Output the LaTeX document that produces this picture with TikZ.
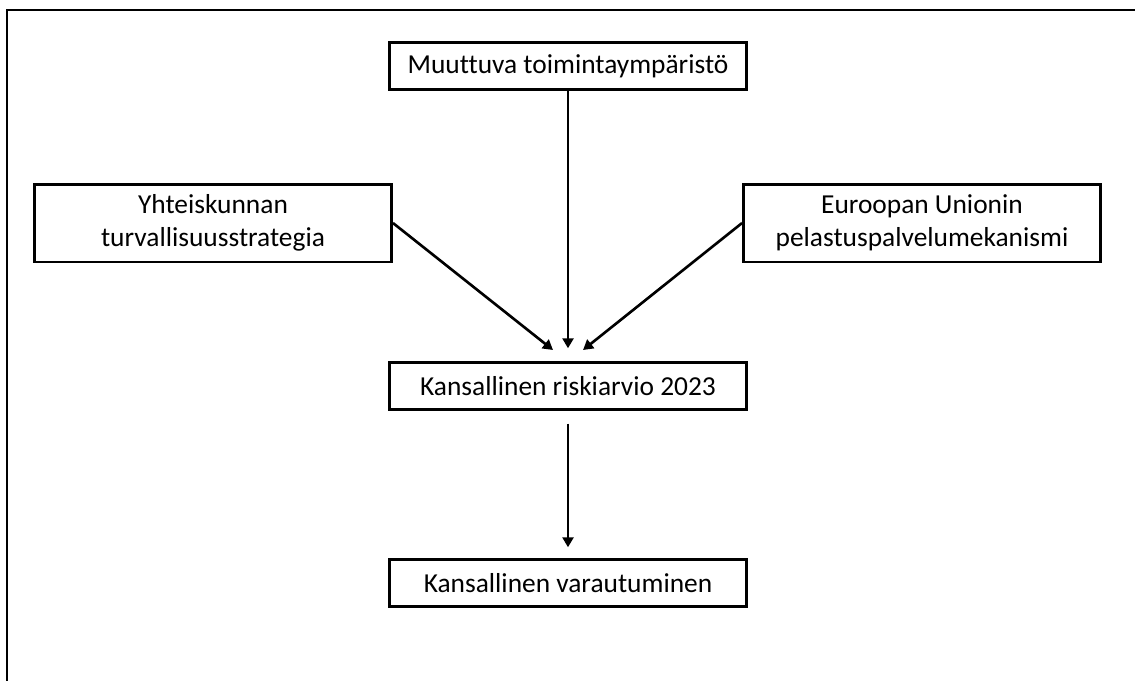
\documentclass[tikz,border=0pt]{standalone}
\usepackage{fontspec}
\setmainfont{Carlito}[Ligatures=NoCommon]
\usetikzlibrary{arrows.meta}
\begin{document}
\begin{tikzpicture}[
	x=0.02cm, y=-0.02cm,
	stage/.style={
		draw, line width=1.7pt, align=center,
		minimum width=7.14cm, minimum height=0.93cm,
		inner sep=0pt, font=\fontsize{15.6}{19}\selectfont
	},
	twoline/.style={
		stage, minimum height=1.56cm
	},
	feed/.style={
		line width=1.5pt, -{Triangle[length=0.2cm, width=0.22cm]}
	}
]
	% Frame
	\useasboundingbox (0, 0) rectangle (1135, 680);
	\clip (0, 0) rectangle (1135, 680);
	\draw[line width=1.2pt] (7, 10) rectangle (1150, 700);
	% Boxes
	\node[stage] (env) at (568, 66) {Muuttuva toimintaympäristö};
	\node[twoline] (strat) at (213, 223) {Yhteiskunnan\\turvallisuusstrategia};
	\node[twoline] (eu) at (922, 223) {Euroopan Unionin\\pelastuspalvelumekanismi};
	\node[stage] (risk) at (568, 386) {Kansallinen riskiarvio 2023};
	\node[stage] (prep) at (568, 583) {Kansallinen varautuminen};
	\coordinate (tipL) at (553, 350);
	\coordinate (tipR) at (583, 350);
	% Arrows
	\draw[feed, shorten >=0.26cm] (env) -- (risk);
	\draw[feed] (strat.east) -- (tipL);
	\draw[feed] (eu.west) -- (tipR);
	\draw[feed, shorten <=0.26cm, shorten >=0.22cm] (risk) -- (prep);
\end{tikzpicture}
\end{document}
